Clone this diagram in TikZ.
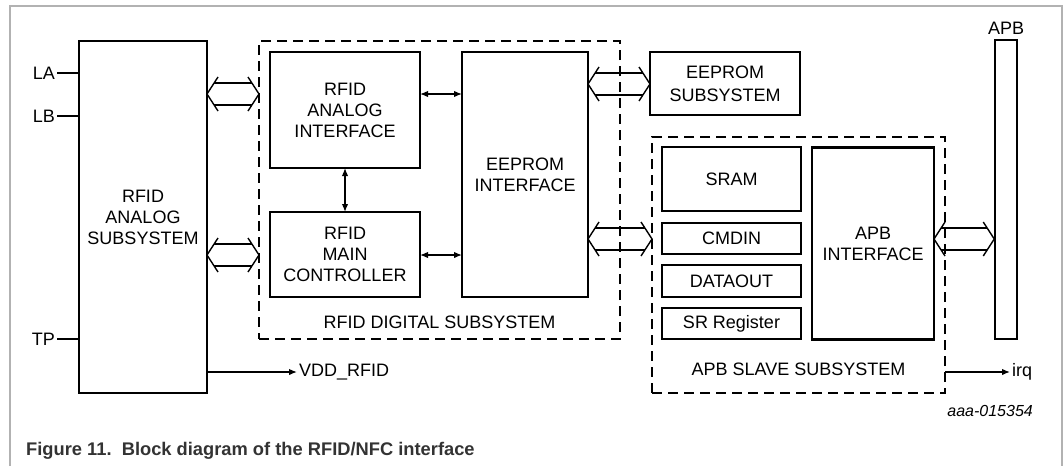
\documentclass[tikz,border=0pt]{standalone}
\usepackage{fontspec}
\setmainfont{Liberation Sans}
\usetikzlibrary{calc,arrows.meta}
\tikzset{
  blk/.style={draw,line width=2.9pt,rectangle,align=center,inner sep=0pt,outer sep=0pt,font=\fontsize{18}{21}\selectfont},
  subsys/.style={draw,line width=2.9pt,dash pattern=on 10pt off 6pt,rectangle,inner sep=0pt,outer sep=0pt},
  lbl/.style={font=\fontsize{18}{21}\selectfont,inner sep=2pt},
  sig/.style={line width=1.4pt},
  bus/.style={line width=1.4pt,line join=miter},
  >={Latex[length=8pt,width=6.5pt]}
}
%% hollow double arrow between two points on one row
\newcommand{\busarrow}[2]{%
  \draw[bus] ($(#1)+(11,-17)$) -- (#1) -- ($(#1)+(11,17)$);
  \draw[bus] ($(#2)+(-11,-17)$) -- (#2) -- ($(#2)+(-11,17)$);
  \draw[bus] ($(#1)+(7,-11)$) -- ($(#2)+(-7,-11)$);
  \draw[bus] ($(#1)+(7,11)$) -- ($(#2)+(-7,11)$);}
\begin{document}
\begin{tikzpicture}[x=1pt,y=-1pt]
        \useasboundingbox (0,0) rectangle (1064,466);
        %% Frame
        \draw[gray!60,line width=1.3pt] (10,466) |- (1062,6) -- (1062,466);
        %% Rows
        \coordinate (rowA) at (0,94);
        \coordinate (rowB) at (0,255);
        \coordinate (rowE) at (0,84);
        \coordinate (rowP) at (0,239);
        %% Analog subsystem
        \node[blk,minimum width=128,minimum height=352] (ana) at (143,217) {RFID\\ANALOG\\SUBSYSTEM};
        %% Digital subsystem
        \node[subsys,minimum width=361,minimum height=298] (dig) at (439.5,190) {};
        \node[lbl,anchor=south] (diglbl) at ([yshift=8pt]dig.south) {RFID DIGITAL SUBSYSTEM};
        \node[blk,minimum width=150,minimum height=116] (rai) at (345,110) {RFID\\ANALOG\\INTERFACE};
        \node[blk,minimum width=150,minimum height=85] (rmc) at (345,254.5) {RFID\\MAIN\\CONTROLLER};
        \node[blk,minimum width=126,minimum height=245] (eei) at (525,174.5) {EEPROM\\INTERFACE};
        \node[blk,minimum width=150,minimum height=63,font=\fontsize{18}{23}\selectfont] (ees) at (725,83.5) {EEPROM\\SUBSYSTEM};
        %% APB slave subsystem
        \node[subsys,minimum width=293,minimum height=256] (apbs) at (798.5,265) {};
        \node[lbl,anchor=south] (apbslbl) at ([yshift=15pt]apbs.south) {APB SLAVE SUBSYSTEM};
        \node[blk,minimum width=139,minimum height=64] (sram) at (731.5,179) {SRAM};
        \node[blk,minimum width=139,minimum height=31] (cmdin) at (731.5,238.5) {CMDIN};
        \node[blk,minimum width=139,minimum height=32] (dout) at (731.5,281) {DATAOUT};
        \node[blk,minimum width=139,minimum height=31] (srreg) at (731.5,323.5) {SR Register};
        \node[blk,minimum width=122,minimum height=192] (apbi) at (873,243.5) {APB\\INTERFACE};
        %% APB bus
        \node[draw,line width=1.5pt,minimum width=22,minimum height=299,inner sep=0pt] (apb) at (1006,189.5) {};
        \node[lbl,anchor=south] (apblbl) at ([yshift=3pt]apb.north) {APB};
        %% Pins
        \node[lbl,anchor=east] (la) at (57,73) {LA};
        \node[lbl,anchor=east] (lb) at (57,116) {LB};
        \node[lbl,anchor=east] (tp) at (57,339) {TP};
        \draw[sig] (la.east) -- (la.east -| ana.west);
        \draw[sig] (lb.east) -- (lb.east -| ana.west);
        \draw[sig] (tp.east) -- (tp.east -| ana.west);
        \node[lbl,anchor=west] (vdd) at (297,372) {VDD\_RFID};
        \draw[sig,->] (vdd.west -| ana.east) -- (vdd.west);
        \node[lbl,anchor=west] (irq) at (1010,372) {irq};
        \draw[sig,->] (irq.west -| apbs.east) -- (irq.west);
        %% Internal links
        \draw[sig,<->] (rai.east |- rowA) -- (eei.west |- rowA);
        \draw[sig,<->] (rmc.east |- rowB) -- (eei.west |- rowB);
        \draw[sig,<->] (rai.south) -- (rmc.north);
        %% Buses
        \coordinate (b1l) at (ana.east |- rowA); \coordinate (b1r) at (dig.west |- rowA);
        \coordinate (b2l) at (ana.east |- rowB); \coordinate (b2r) at (dig.west |- rowB);
        \coordinate (b3l) at (eei.east |- rowE); \coordinate (b3r) at (ees.west |- rowE);
        \coordinate (b4l) at (eei.east |- rowP); \coordinate (b4r) at (apbs.west |- rowP);
        \coordinate (b5l) at (apbi.east |- rowP); \coordinate (b5r) at (apb.west |- rowP);
        \busarrow{b1l}{b1r}
        \busarrow{b2l}{b2r}
        \busarrow{b3l}{b3r}
        \busarrow{b4l}{b4r}
        \busarrow{b5l}{b5r}
        %% Figure id and caption
        \node[anchor=east,inner sep=2pt,font=\fontsize{16}{19}\selectfont\itshape] (figid) at (1035,411) {aaa-015354};
        \node[anchor=base west,inner sep=0pt,text=black!80,font=\fontsize{18.3}{21}\selectfont\bfseries] (caption) at (26,455) {Figure 11.\ \ Block diagram of the RFID/NFC interface};
    \end{tikzpicture}
\end{document}
